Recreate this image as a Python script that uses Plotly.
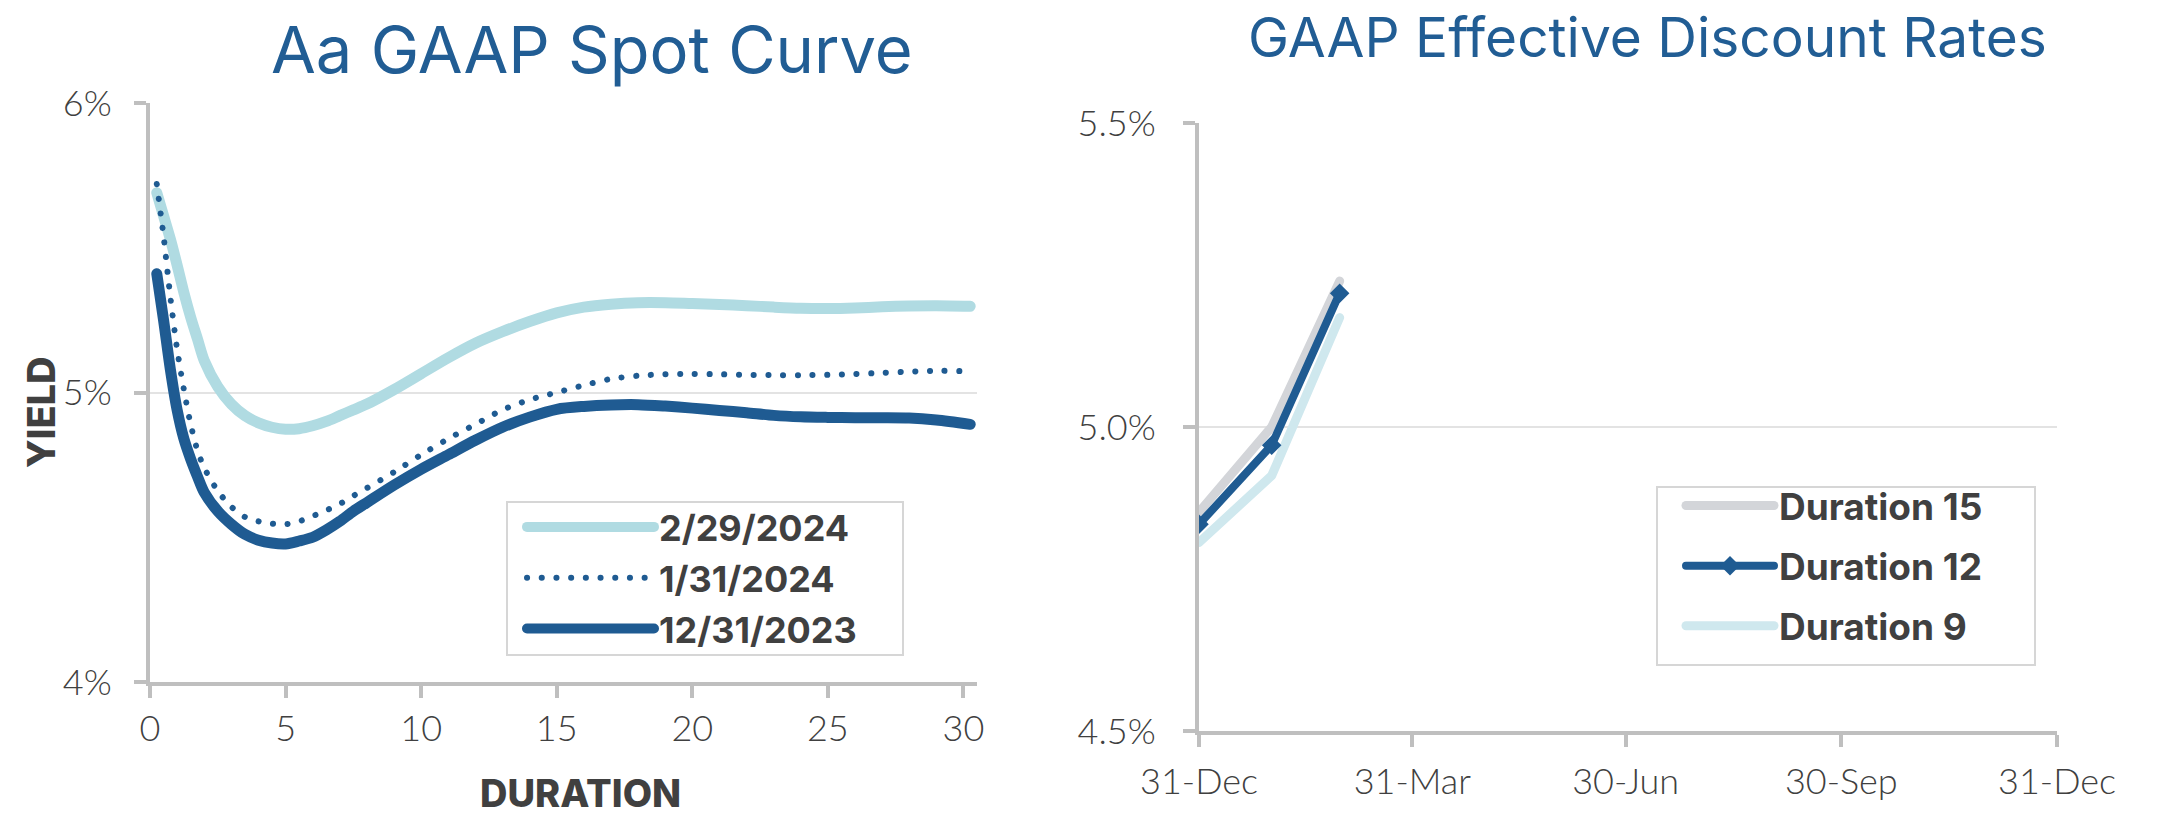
import plotly.graph_objects as go

# ---------------- data ----------------
durations = [0.25, 0.5, 0.75, 1.0, 1.25, 1.5, 1.75, 2.0, 2.5, 3.0, 3.5, 4.0, 4.5, 5.0,
             5.5, 6.0, 6.5, 7.0, 7.5, 8.0, 9.0, 10.0, 11.0, 12.0, 13.0, 14.0, 15.0,
             16.0, 17.0, 18.0, 19.0, 20.0, 21.0, 22.0, 23.0, 24.0, 25.0, 26.0, 27.0,
             28.0, 29.0, 30.25]

spot_2024_02_29 = [5.69, 5.61, 5.53, 5.44, 5.345, 5.26, 5.185, 5.11, 5.02, 4.96, 4.92,
                   4.895, 4.88, 4.873, 4.875, 4.885, 4.90, 4.92, 4.94, 4.96, 5.01, 5.065,
                   5.12, 5.17, 5.21, 5.245, 5.275, 5.295, 5.305, 5.31, 5.31, 5.307, 5.304,
                   5.30, 5.295, 5.291, 5.29, 5.292, 5.296, 5.299, 5.30, 5.298]

spot_2024_01_31 = [5.72, 5.54, 5.33, 5.15, 5.01, 4.89, 4.80, 4.74, 4.66, 4.605, 4.57,
                   4.555, 4.547, 4.545, 4.555, 4.573, 4.593, 4.615, 4.643, 4.67, 4.725,
                   4.785, 4.84, 4.89, 4.94, 4.975, 5.0, 5.025, 5.047, 5.058, 5.063, 5.064,
                   5.063, 5.061, 5.06, 5.06, 5.061, 5.064, 5.068, 5.072, 5.075, 5.073]

spot_2023_12_31 = [5.41, 5.25, 5.08, 4.94, 4.84, 4.77, 4.71, 4.655, 4.59, 4.545, 4.51,
                   4.49, 4.48, 4.477, 4.487, 4.50, 4.525, 4.555, 4.59, 4.62, 4.68, 4.735,
                   4.785, 4.835, 4.88, 4.915, 4.942, 4.952, 4.957, 4.958, 4.953, 4.946,
                   4.938, 4.93, 4.921, 4.916, 4.914, 4.913, 4.913, 4.912, 4.905, 4.89]

spot_names = ["2/29/2024", "1/31/2024", "12/31/2023"]

rate_dates = ["2023-12-31", "2024-01-31", "2024-02-29"]
duration_15 = [4.86, 5.00, 5.24]
duration_12 = [4.84, 4.97, 5.22]
duration_9 = [4.81, 4.92, 5.18]
rate_names = ["Duration 15", "Duration 12", "Duration 9"]

left_yticks = [4, 5, 6]
left_yticklabels = ["4%", "5%", "6%"]
right_yticks = [4.5, 5.0, 5.5]
right_yticklabels = ["4.5%", "5.0%", "5.5%"]
right_xticks = ["2023-12-31", "2024-03-31", "2024-06-30", "2024-09-30", "2024-12-31"]
right_xticklabels = ["31-Dec", "31-Mar", "30-Jun", "30-Sep", "31-Dec"]
left_xticks = [0, 5, 10, 15, 20, 25, 30]

# ---------------- style ----------------
W, H = 2172, 830
DARK = "#1f5b92"
LIGHT = "#b0dbe2"
GRAY_LINE = "#d3d5d9"
PALE = "#cfe8ee"
AXIS = "#bfbfbf"
GRID = "#e3e3e3"
FRAME = "#d6d6d6"
TXT = "#404040"
TITLE = "#215d94"
TICKFONT = dict(family="Lato", size=36, color=TXT, weight=300)
LEGFONT = dict(family="Inter", size=36, color=TXT, weight="bold")


def px_x(p):
    return p / W


def px_y(p):
    return (H - p) / H


fig = go.Figure()

# left chart
fig.add_trace(go.Scatter(x=durations, y=spot_2024_02_29, name=spot_names[0], mode="lines",
                         line=dict(color=LIGHT, width=11, shape="spline", smoothing=0.8),
                         legendgroup="a",
                         xaxis="x", yaxis="y", legend="legend"))
fig.add_trace(go.Scatter(x=durations, y=spot_2024_01_31, name=spot_names[1], mode="lines",
                         line=dict(color=DARK, width=6, dash="0.1px,14.6px", shape="spline",
                                   smoothing=0.8),
                         legendgroup="b",
                         xaxis="x", yaxis="y", legend="legend"))
fig.add_trace(go.Scatter(x=durations, y=spot_2023_12_31, name=spot_names[2], mode="lines",
                         line=dict(color=DARK, width=11, shape="spline", smoothing=0.8),
                         legendgroup="c",
                         xaxis="x", yaxis="y", legend="legend"))

# right chart
fig.add_trace(go.Scatter(x=rate_dates, y=duration_15, name=rate_names[0], mode="lines",
                         line=dict(color=GRAY_LINE, width=9), legendrank=1,
                         legendgroup="d15",
                         xaxis="x2", yaxis="y2", legend="legend2"))
fig.add_trace(go.Scatter(x=rate_dates, y=duration_9, name=rate_names[2], mode="lines",
                         line=dict(color=PALE, width=9), legendrank=3,
                         legendgroup="d9",
                         xaxis="x2", yaxis="y2", legend="legend2"))
fig.add_trace(go.Scatter(x=rate_dates, y=duration_12, name=rate_names[1], mode="lines+markers",
                         line=dict(color=DARK, width=8),
                         marker=dict(symbol="diamond", size=15, color=DARK), legendrank=2,
                         legendgroup="d12",
                         xaxis="x2", yaxis="y2", legend="legend2"))

axis_common = dict(showline=True, linecolor=AXIS, linewidth=4, ticks="outside",
                   tickcolor=AXIS, tickwidth=4, ticklen=12, tickfont=TICKFONT,
                   zeroline=False, fixedrange=True, automargin=False)

legend_frames = [
    dict(type="rect", xref="paper", yref="paper", layer="below",
         x0=px_x(507), x1=px_x(903), y0=px_y(655), y1=px_y(502),
         line=dict(color=FRAME, width=2), fillcolor="white"),
    dict(type="rect", xref="paper", yref="paper", layer="below",
         x0=px_x(1657), x1=px_x(2035), y0=px_y(665), y1=px_y(487),
         line=dict(color=FRAME, width=2), fillcolor="white"),
]

fig.update_layout(
    width=W, height=H,
    margin=dict(l=0, r=0, t=0, b=0, pad=0, autoexpand=False),
    paper_bgcolor="white", plot_bgcolor="rgba(0,0,0,0)",
    showlegend=True,
    shapes=legend_frames,
    xaxis=dict(domain=[px_x(150), px_x(977)], range=[0, 30.5], tickvals=left_xticks,
               showgrid=False, anchor="y", ticklabelstandoff=0, **axis_common),
    yaxis=dict(domain=[px_y(682), px_y(103)], range=[4, 6], tickvals=left_yticks,
               ticktext=left_yticklabels, showgrid=True, gridcolor=GRID, gridwidth=2,
               anchor="x", ticklabelstandoff=15, **axis_common),
    xaxis2=dict(domain=[px_x(1199), px_x(2057)], type="date",
                range=[right_xticks[0], right_xticks[-1]], tickvals=right_xticks,
                ticktext=right_xticklabels, showgrid=False, anchor="y2",
                ticklabelstandoff=4, **axis_common),
    yaxis2=dict(domain=[px_y(731), px_y(123)], range=[4.5, 5.5], tickvals=right_yticks,
                ticktext=right_yticklabels, showgrid=True, gridcolor=GRID,
                gridwidth=2, anchor="x2", ticklabelstandoff=20, **axis_common),
    legend=dict(x=px_x(522), y=px_y(497), xanchor="left", yanchor="top",
                bgcolor="rgba(0,0,0,0)", borderwidth=0,
                font=LEGFONT, itemwidth=127, traceorder="grouped", tracegroupgap=1),
    legend2=dict(x=px_x(1681), y=px_y(475), xanchor="left", yanchor="top",
                 bgcolor="rgba(0,0,0,0)", borderwidth=0,
                 font=dict(LEGFONT, size=37), itemwidth=88, traceorder="grouped",
                 tracegroupgap=9),
    annotations=[
        dict(text="Aa GAAP Spot Curve", x=px_x(592), y=px_y(50), xref="paper", yref="paper",
             xanchor="center", yanchor="middle", showarrow=False,
             font=dict(family="Inter", size=65, color=TITLE)),
        dict(text="GAAP Effective Discount Rates", x=px_x(1647), y=px_y(37), xref="paper",
             yref="paper", xanchor="center", yanchor="middle", showarrow=False,
             font=dict(family="Inter", size=55, color=TITLE)),
        dict(text="YIELD", x=px_x(41), y=px_y(412), xref="paper", yref="paper",
             xanchor="center", yanchor="middle", showarrow=False, textangle=-90,
             font=dict(family="Inter", size=38, color=TXT, weight=800)),
        dict(text="DURATION", x=px_x(580), y=px_y(793), xref="paper", yref="paper",
             xanchor="center", yanchor="middle", showarrow=False,
             font=dict(family="Inter", size=38, color=TXT, weight=800)),
    ],
)

post = ("var s=document.createElement('style');"
        "s.innerHTML='body{margin:0;}.js-line{stroke-linecap:round;stroke-linejoin:round;}';"
        "document.head.appendChild(s);")

fig.write_html("out.html", post_script=post, config={"displayModeBar": False})
